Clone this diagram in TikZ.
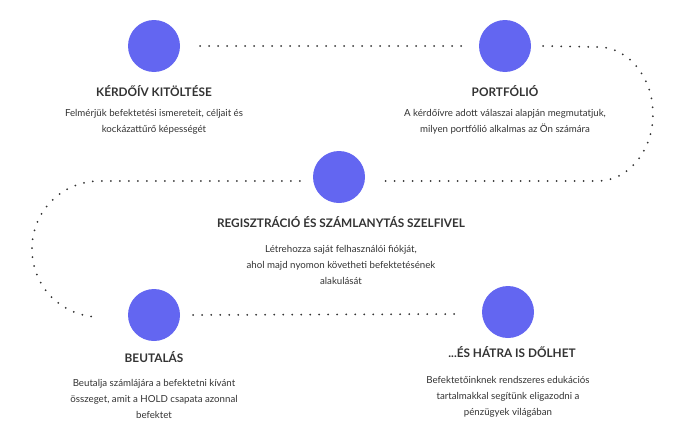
\documentclass[tikz,border=0pt]{standalone}
\usepackage{fontspec}
\setmainfont{Lato}
\usetikzlibrary{positioning}
\definecolor{stepblue}{RGB}{99,102,241}
\definecolor{inkgray}{RGB}{51,51,51}

\begin{document}
\begin{tikzpicture}[x=1pt,y=-1pt,
  dot/.style={circle,fill=stepblue,minimum size=52pt,inner sep=0pt},
  title/.style={font=\bfseries\fontsize{11.8}{13}\selectfont,text=inkgray,inner sep=0pt,anchor=base},
  desc/.style={font=\fontsize{9.7}{16}\selectfont,text=inkgray,align=center,inner sep=0pt,anchor=north},
  trail/.style={inkgray,line width=2pt,line cap=round,dash pattern=on 0pt off 9pt}]
 \useasboundingbox (0,0) rectangle (690,431);
 % steps
 \node[dot] (c1) at (154,46) {};
 \node[dot] (c2) at (505,46) {};
 \node[dot] (c3) at (339,177) {};
 \node[dot] (c4) at (154,315) {};
 \node[dot] (c5) at (508,312) {};
 % dotted trail
 \draw[trail] ([xshift=20pt]c1.east) -- ([xshift=-17pt]c2.west);
 \draw[trail] ([xshift=12pt]c2.east) -- (598,47)
   .. controls (628,47) and (653,77) .. (653,114)
   .. controls (653,151) and (628,181) .. (598,181)
   -- ([shift={(13,4)}]c3.east);
 \draw[trail] ([shift={(-13,4)}]c3.west) -- (100,181)
   .. controls (62,181) and (32,211) .. (32,249)
   .. controls (32,287) and (62,317) .. ([shift={(-28,2)}]c4.west);
 \draw[trail] ([xshift=13pt]c4.east) -- ([shift={(-22,2)}]c5.west);
 % labels
 \node[title] (t1) at (154,96) {KÉRDŐÍV KITÖLTÉSE};
 \node[desc] (d1) at (154,109.5) {Felmérjük befektetési ismereteit, céljait és\\kockázattűrő képességét};
 \node[title] (t2) at (505,96) {PORTFÓLIÓ};
 \node[desc] (d2) at (505,109.5) {A kérdőívre adott válaszai alapján megmutatjuk,\\milyen portfólió alkalmas az Ön számára};
 \node[title] (t3) at (341,227) {REGISZTRÁCIÓ ÉS SZÁMLANYTÁS SZELFIVEL};
 \node[desc] (d3) at (341,245.5) {Létrehozza saját felhasználói fiókját,\\ahol majd nyomon követheti befektetésének\\alakulását};
 \node[title] (t4) at (154,362) {BEUTALÁS};
 \node[desc] (d4) at (154,379.5) {Beutalja számlájára a befektetni kívánt\\összeget, amit a HOLD csapata azonnal\\befektet};
 \node[title] (t5) at (512,357) {...ÉS HÁTRA IS DŐLHET};
 \node[desc] (d5) at (508,376.5) {Befektetőinknek rendszeres edukációs\\tartalmakkal segítünk eligazodni a\\pénzügyek világában};
\end{tikzpicture}
\end{document}
